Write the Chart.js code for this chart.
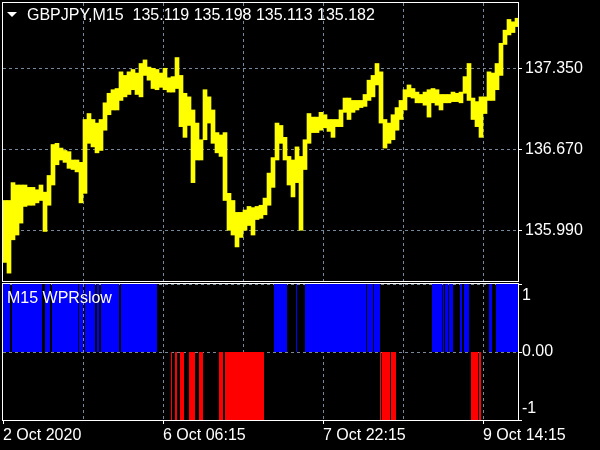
<!DOCTYPE html>
<html>
<head>
<meta charset="UTF-8">
<title>GBPJPY,M15 - WPRslow</title>
<script src="https://cdn.jsdelivr.net/npm/chart.js"></script>
<style>
    body { margin: 0; background: #000; width: 600px; height: 450px; overflow: hidden; position: relative; font-family: 'Liberation Sans', Arial, sans-serif; }
    canvas { position: absolute; left: 0; }
    #price { top: 0; }
    #wpr { top: 282px; }
    .lbl { position: absolute; color: #fff; font-size: 16px; line-height: 16px; white-space: pre; }
    #tri { position: absolute; left: 7px; top: 12px; width: 0; height: 0; border-left: 5px solid transparent; border-right: 5px solid transparent; border-top: 5px solid #fff; }
</style>
</head>
<body>
<canvas id="price" width="600" height="282"></canvas>
<canvas id="wpr" width="600" height="168"></canvas>
<div id="tri"></div>
<div class="lbl" id="title" style="left:27px; top:7px;"></div>
<div class="lbl" id="indName" style="left:7px; top:290px;"></div>

<script>
    // header
    const symbol = 'GBPJPY';
    const period = 'M15';
    const ohlc = [135.119, 135.198, 135.113, 135.182];
    const indicatorName = 'M15 WPRslow';

    // price, one point per hour (4 M15 bars), high / low
    const barsPerPoint = 4;
    const priceHigh = [
        136.24, 136.24, 136.39, 136.37, 136.37, 136.37, 136.35, 136.35, 136.33, 136.37,
        136.31, 136.45, 136.71, 136.72, 136.68, 136.66, 136.65, 136.58, 136.58, 136.56,
        136.92, 136.97, 136.92, 136.89, 136.92, 137.06, 137.14, 137.17, 137.18, 137.32,
        137.29, 137.32, 137.34, 137.31, 137.39, 137.42, 137.36, 137.35, 137.34, 137.31,
        137.35, 137.27, 137.28, 137.44, 137.29, 137.14, 137.11, 137.00, 136.89, 136.75,
        137.17, 137.11, 137.00, 136.81, 136.79, 136.81, 136.30, 136.24, 136.14, 136.14,
        136.16, 136.19, 136.18, 136.19, 136.20, 136.26, 136.47, 136.60, 136.89, 136.87,
        136.77, 136.61, 136.58, 136.69, 136.61, 136.75, 136.97, 136.94, 136.94, 136.98,
        136.96, 136.92, 136.92, 136.92, 137.00, 137.10, 137.10, 137.08, 137.08, 137.08,
        137.13, 137.25, 137.29, 137.39, 137.32, 136.92, 136.89, 136.96, 137.02, 137.08,
        137.17, 137.21, 137.18, 137.15, 137.13, 137.15, 137.17, 137.18, 137.17, 137.13,
        137.13, 137.13, 137.15, 137.14, 137.15, 137.28, 137.39, 137.10, 137.07, 137.11,
        137.11, 137.32, 137.31, 137.39, 137.56, 137.67, 137.76, 137.74, 137.77
    ];
    const priceLow = [
        135.72, 135.63, 135.91, 135.95, 136.05, 136.19, 136.20, 136.20, 136.22, 136.24,
        135.98, 136.20, 136.37, 136.54, 136.58, 136.56, 136.51, 136.50, 136.48, 136.22,
        136.30, 136.72, 136.69, 136.64, 136.66, 136.83, 136.96, 137.00, 137.00, 137.08,
        137.11, 137.13, 137.17, 137.13, 137.11, 137.29, 137.25, 137.18, 137.17, 137.19,
        137.17, 137.15, 137.15, 137.18, 136.86, 136.77, 136.87, 136.39, 136.58, 136.58,
        136.75, 136.89, 136.72, 136.64, 136.61, 136.24, 135.99, 135.95, 135.85, 135.93,
        135.99, 136.03, 135.95, 136.08, 136.09, 136.12, 136.20, 136.35, 136.58, 136.72,
        136.58, 136.37, 136.27, 136.39, 135.99, 136.50, 136.72, 136.81, 136.81, 136.83,
        136.85, 136.82, 136.77, 136.86, 136.86, 136.98, 136.92, 136.98, 137.00, 137.02,
        137.03, 137.08, 137.11, 137.21, 136.89, 136.68, 136.72, 136.75, 136.83, 136.92,
        137.00, 137.11, 137.10, 137.06, 137.06, 137.04, 136.94, 137.06, 137.04, 137.00,
        137.06, 137.06, 137.07, 137.07, 137.06, 137.14, 137.08, 136.92, 136.86, 136.77,
        136.97, 137.08, 137.08, 137.17, 137.29, 137.55, 137.63, 137.65, 137.70
    ];
    const priceTicks = [135.99, 136.67, 137.35];
    const priceMin = 135.564;
    const priceMax = 137.898;

    // WPRslow: runs of equal value, starting bar (M15) and value
    const runStart = [
        0, 7, 9, 39, 42, 47, 49, 75, 76, 80, 82, 92, 94, 96, 98, 116, 118, 154,
        168, 169, 172, 174, 177, 181, 186, 192, 196, 200, 216, 220, 222, 261,
        271, 284, 293, 294, 302, 363, 364, 370, 371,
        377, 378, 379, 387, 388, 393,
        429, 439, 440, 441, 442, 445, 446, 450, 457, 459, 461, 466,
        468, 475, 476, 478,
        486, 489, 493
    ];
    const runValue = [
        1, 0, 1, 0, 1, 0, 1, 0, 1, 0, 1, 0, 1, 0, 1, 0, 1, 0,
        -1, 0, -1, 0, -1, 0, -1, 0, -1, 0, -1, 0, -1, 0,
        1, 0, 1, 0, 1, 0, 1, 0, 1,
        -1, 0, -1, 0, -1, 0,
        1, 0, 1, 0, 1, 0, 1, 0, 1, 0, 1, 0,
        -1, 0, -1, 0,
        1, 0, 1
    ];
    const lastBar = 515;
    const wprTicks = [-1, 0, 1];

    // time axis
    const timeTickBars = [0, 160, 320, 480];
    const timeTickLabels = ['2 Oct 2020', '6 Oct 06:15', '7 Oct 22:15', '9 Oct 14:15'];
    const gridStep = 80;

    const GRID = '#778899';
    const DASH = [3, 3];
    const CLEAR = 'rgba(0,0,0,0)';

    document.getElementById('title').textContent =
        symbol + ',' + period + '  ' + ohlc.map(v => v.toFixed(3)).join(' ');
    document.getElementById('indName').textContent = indicatorName;

    Chart.defaults.font.family = "'Liberation Sans', Arial, sans-serif";
    Chart.defaults.font.size = 16;
    Chart.defaults.color = '#ffffff';

    const frame = {
        id: 'frame',
        afterDraw(chart) {
            const a = chart.chartArea, ctx = chart.ctx;
            ctx.save();
            ctx.strokeStyle = '#ffffff';
            ctx.lineWidth = 1;
            ctx.strokeRect(a.left - 0.5, a.top - 0.5, a.right - a.left + 1, a.bottom - a.top + 1);
            ctx.restore();
        }
    };

    function timeAxis(withLabels) {
        return {
            type: 'linear', min: 0, max: lastBar, offset: false,
            afterBuildTicks(s) {
                const t = [];
                for (let v = 0; v <= lastBar; v += gridStep) t.push({ value: v });
                s.ticks = t;
            },
            afterFit(s) {
                s.height = withLabels ? 30 : 0;
                s.paddingLeft = 0; s.paddingRight = 0;
            },
            border: { display: false, dash: DASH },
            grid: {
                offset: false,
                color: c => (c.tick && c.tick.value === 0) ? CLEAR : GRID,
                borderDash: DASH,
                drawTicks: withLabels,
                tickLength: 4,
                tickBorderDash: [],
                tickColor: c => (c.tick && timeTickBars.includes(c.tick.value)) ? '#ffffff' : CLEAR
            },
            ticks: {
                display: withLabels, autoSkip: false, maxRotation: 0, minRotation: 0,
                align: 'start', padding: 2,
                callback: v => {
                    const k = timeTickBars.indexOf(v);
                    return k < 0 ? '' : timeTickLabels[k];
                }
            }
        };
    }

    function valueAxis(min, max, ticks, padding, fmt, lineHeight) {
        return {
            position: 'right', min: min, max: max,
            afterBuildTicks(s) { s.ticks = ticks.map(v => ({ value: v })); },
            afterFit(s) {
                s.width = 82;
                s.paddingTop = 0; s.paddingBottom = 0;
            },
            border: { display: false, dash: DASH },
            grid: { color: GRID, borderDash: DASH, tickLength: 4, tickColor: '#ffffff', tickBorderDash: [] },
            ticks: { padding: padding, callback: fmt, font: { lineHeight: lineHeight } }
        };
    }

    new Chart(document.getElementById('price'), {
        type: 'bar',
        data: {
            datasets: [{
                data: priceHigh.map((h, i) => ({ x: i * barsPerPoint + barsPerPoint / 2, y: [priceLow[i], h] })),
                backgroundColor: '#ffff00',
                borderWidth: 0,
                barPercentage: 1,
                categoryPercentage: 1
            }]
        },
        options: {
            responsive: false, animation: false, devicePixelRatio: 1,
            layout: { padding: { left: 3, top: 3, right: 0, bottom: 1 } },
            plugins: { legend: { display: false }, tooltip: { enabled: false } },
            scales: {
                x: timeAxis(false),
                y: valueAxis(priceMin, priceMax, priceTicks, 3, v => v.toFixed(3), 1.2)
            }
        },
        plugins: [frame]
    });

    const wprPoints = runStart.map((s, i) => ({ x: s, y: runValue[i] }));
    wprPoints.push({ x: lastBar, y: runValue[runValue.length - 1] });

    new Chart(document.getElementById('wpr'), {
        type: 'line',
        data: {
            datasets: [{
                data: wprPoints,
                stepped: true,
                borderWidth: 0,
                borderColor: CLEAR,
                pointRadius: 0,
                fill: { target: 'origin', above: '#0000ff', below: '#ff0000' }
            }]
        },
        options: {
            responsive: false, animation: false, devicePixelRatio: 1,
            layout: { padding: { left: 3, top: 2, right: 0, bottom: 0 } },
            plugins: { legend: { display: false }, tooltip: { enabled: false } },
            scales: {
                x: timeAxis(true),
                y: valueAxis(-1, 1, wprTicks, 0,
                    v => v === 1 ? ['', '1'] : (v === -1 ? ['-1', ''] : v.toFixed(2)), '23px')
            }
        },
        plugins: [frame]
    });
</script>
</body>
</html>
